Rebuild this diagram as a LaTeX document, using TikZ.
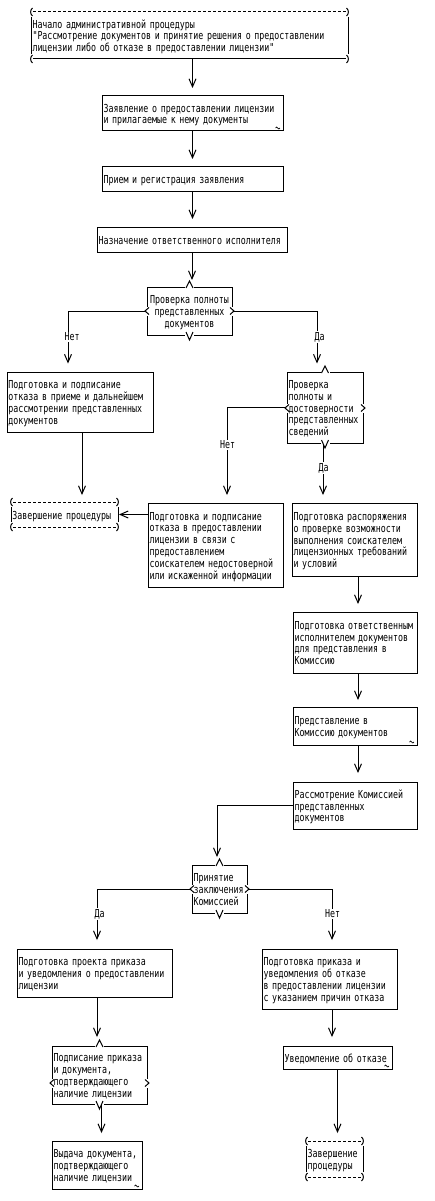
\documentclass[tikz,border=0pt]{standalone}
\usepackage{fontspec}
\newfontfamily\pxfont[FakeStretch=0.755]{DejaVu Sans Mono}
\usetikzlibrary{arrows.meta,calc}
\newcommand\decmarks[2]{%
  \fill[white] ($(#1.north)+(-4.5,-1)$) rectangle ($(#1.north)+(4.5,1)$);
  \draw ($(#1.north)+(-3.5,1)$) -- ($(#1.north)+(0,-6)$) -- ($(#1.north)+(3.5,1)$);
  \fill[white] ($(#1.south)+(-4.5,-1)$) rectangle ($(#1.south)+(4.5,1)$);
  \draw ($(#1.south)+(-3.5,-3)$) -- ($(#1.south)+(0,5)$) -- ($(#1.south)+(3.5,-3)$);
  \fill[white] ($(#1.west)+(-1,{#2-4.5})$) rectangle ($(#1.west)+(1,{#2+4.5})$);
  \draw ($(#1.west)+(2,{#2-3.5})$) -- ($(#1.west)+(-2,#2)$) -- ($(#1.west)+(2,{#2+3.5})$);
  \fill[white] ($(#1.east)+(-1,{#2-4.5})$) rectangle ($(#1.east)+(1,{#2+4.5})$);
  \draw ($(#1.east)+(-2,{#2-3.5})$) -- ($(#1.east)+(2,#2)$) -- ($(#1.east)+(-2,{#2+3.5})$);
}
\newcommand\termframe[3]{%
  \draw[#2] ($(#1.north west)+(2,0)$) -- ($(#1.north east)+(-2,0)$);
  \draw[#3] ($(#1.south west)+(2,0)$) -- ($(#1.south east)+(-2,0)$);
  \draw ($(#1.north west)+(0,5)$) -- ($(#1.south west)+(0,-5)$);
  \draw ($(#1.north east)+(0,5)$) -- ($(#1.south east)+(0,-5)$);
  \draw ($(#1.north west)+(1.5,-4)$) .. controls +(-2.5,2) and +(-2.5,-2) .. ($(#1.north west)+(1.5,4)$);
  \draw ($(#1.south west)+(1.5,-4)$) .. controls +(-2.5,2) and +(-2.5,-2) .. ($(#1.south west)+(1.5,4)$);
  \draw ($(#1.north east)+(-1.5,-4)$) .. controls +(2.5,2) and +(2.5,-2) .. ($(#1.north east)+(-1.5,4)$);
  \draw ($(#1.south east)+(-1.5,-4)$) .. controls +(2.5,2) and +(2.5,-2) .. ($(#1.south east)+(-1.5,4)$);
}
\newcommand\tildemark[1]{%
  \draw[line width=0.7pt] ($(#1.south east)+(-7.5,-3)$) sin ++(1.1,-1) cos ++(1.1,1) sin ++(1.1,1) cos ++(1.1,-1);
}
\begin{document}
\begin{tikzpicture}[x=1pt,y=-1pt,line width=1pt,
  every node/.style={font=\pxfont\fontsize{11}{11.8}\selectfont},
  tbox/.style={rectangle,outer sep=0pt,inner xsep=1.5pt,inner ysep=0pt,align=left,
    execute at begin node={\rule{0pt}{11.5pt}},
    execute at end node={\rule[-2.5pt]{0pt}{0pt}}},
  box/.style={tbox,draw},
  dsh/.style={dash pattern=on 3pt off 2pt},
  conn/.style={-{Straight Barb[length=8pt,width=7pt]},shorten >=8pt},
  lbl/.style={fill=white,inner sep=1pt}]
\useasboundingbox[fill=white] (0,0) rectangle (435,1201);

% nodes
\node[tbox,minimum width=317pt,text width=314pt,minimum height=47pt] (start) at (189.5,35.5)
 {Начало административной процедуры\\"Рассмотрение документов и принятие решения о предоставлении\\лицензии либо об отказе в предоставлении лицензии"};
\node[box,minimum width=181pt,text width=178pt,minimum height=35pt] (b2) at (192.5,113.5)
 {Заявление о предоставлении лицензии\\и прилагаемые к нему документы};
\node[box,minimum width=181pt,text width=178pt,minimum height=25pt] (b3) at (192.5,179.5)
 {Прием и регистрация заявления};
\node[box,minimum width=190pt,text width=187pt,minimum height=25pt] (b4) at (192,239.5)
 {Назначение ответственного исполнителя};
\node[box,align=center,minimum width=85pt,text width=82pt,minimum height=48pt] (d1) at (189.5,311)
 {Проверка полноты\\представленных\\документов};
\node[box,minimum width=146pt,text width=143pt,minimum height=60pt] (b5) at (80,402)
 {Подготовка и подписание\\отказа в приеме и дальнейшем\\рассмотрении представленных\\документов};
\node[box,minimum width=76pt,text width=73pt,minimum height=71pt] (d2) at (325,407.5)
 {Проверка\\полноты и\\достоверности\\представленных\\сведений};
\node[tbox,minimum width=107pt,text width=104pt,minimum height=25pt] (t1) at (64.5,514.5)
 {Завершение процедуры};
\node[box,minimum width=135pt,text width=132pt,minimum height=84pt] (b6) at (215.5,545)
 {Подготовка и подписание\\отказа в предоставлении\\лицензии в связи с\\предоставлением\\соискателем недостоверной\\или искаженной информации};
\node[box,minimum width=125pt,text width=122pt,minimum height=73pt] (b7) at (354.5,539.5)
 {Подготовка распоряжения\\о проверке возможности\\выполнения соискателем\\лицензионных требований\\и условий};
\node[box,minimum width=124pt,text width=121pt,minimum height=61pt] (b8) at (355,642.5)
 {Подготовка ответственным\\исполнителем документов\\для представления в\\Комиссию};
\node[box,minimum width=124pt,text width=121pt,minimum height=38pt] (b9) at (355,726)
 {Представление в\\Комиссию документов};
\node[box,minimum width=124pt,text width=121pt,minimum height=47pt] (b10) at (355,805.5)
 {Рассмотрение Комиссией\\представленных\\документов};
\node[box,minimum width=55pt,text width=52pt,minimum height=48pt] (d3) at (219.5,889)
 {Принятие\\заключения\\Комиссией};
\node[box,minimum width=155pt,text width=152pt,minimum height=48pt] (b11) at (94.5,973)
 {Подготовка проекта приказа\\и уведомления о предоставлении\\лицензии};
\node[box,minimum width=135pt,text width=132pt,minimum height=60pt] (b12) at (329.5,979)
 {Подготовка приказа и\\уведомления об отказе\\в предоставлении лицензии\\с указанием причин отказа};
\node[box,minimum width=95pt,text width=92pt,minimum height=58pt] (d4) at (99.5,1075)
 {Подписание приказа\\и документа,\\подтверждающего\\наличие лицензии};
\node[box,minimum width=90pt,text width=87pt,minimum height=48pt] (b13) at (97,1165)
 {Выдача документа,\\подтверждающего\\наличие лицензии};
\node[box,minimum width=109pt,text width=106pt,minimum height=23pt] (b14) at (337.5,1057.5)
 {Уведомление об отказе};
\node[tbox,minimum width=57pt,text width=54pt,minimum height=36pt] (t2) at (334.5,1159)
 {Завершение\\процедуры};

% frames of terminators
\termframe{start}{dsh}{solid}
\termframe{t1}{dsh}{dsh}
\termframe{t2}{dsh}{dsh}

% connectors
\draw[conn] (b2.north |- start.south) -- (b2.north);
\draw[conn] (b2.south) -- (b3.north);
\draw[conn] (b3.south) -- (b3.south |- b4.north);
\draw[conn,shorten >=7pt] (b4.south) -- (b4.south |- d1.north);
\draw[conn,shorten >=8.5pt] (d1.west) -| ([xshift=-12pt]b5.north);
\draw[conn,shorten >=8.5pt] (d1.east) -| ([xshift=-8pt]d2.north);
\draw[conn] ([yshift=0.5pt]d2.west) -| ([xshift=11.5pt]b6.north);
\draw[conn] ([xshift=-2pt]d2.south) -- ([xshift=-2pt]d2.south |- b7.north);
\draw[conn,shorten >=7pt] ([xshift=2pt]b5.south) -- ([xshift=2pt]b5.south |- t1.north);
\draw[conn,shorten >=1pt] (t1.east -| b6.west) -- (t1.east);
\draw[conn] ([xshift=3pt]b8.north |- b7.south) -- ([xshift=3pt]b8.north);
\draw[conn,shorten >=7pt] ([xshift=3pt]b8.south) -- ([xshift=3pt]b9.north);
\draw[conn,shorten >=9pt] ([xshift=3pt]b9.south) -- ([xshift=3pt]b10.north);
\draw[conn] (b10.west) -| ([xshift=-2.5pt]d3.north);
\draw[conn,shorten >=9pt] (d3.west) -| ([xshift=2.5pt]b11.north);
\draw[conn,shorten >=9pt] (d3.east) -| ([xshift=2.5pt]b12.north);
\draw[conn,shorten >=9pt] ([xshift=2.5pt]b11.south) -- ([xshift=2.5pt]b11.south |- d4.north);
\draw[conn] ([xshift=2pt]d4.south) -- ([xshift=2pt]d4.south |- b13.north);
\draw[conn,shorten >=9pt] ([xshift=2.5pt]b12.south) -- ([xshift=2.5pt]b12.south |- b14.north);
\draw[conn] (b14.south) -- (b14.south |- t2.north);

% decision marks
\decmarks{d1}{0}
\decmarks{d2}{0.5}
\decmarks{d3}{0}
\decmarks{d4}{8}

% small corner marks
\tildemark{b2}
\tildemark{b9}
\tildemark{b13}
\tildemark{b14}

% labels
\node[lbl] (l1) at (72,337) {Нет};
\node[lbl] (l2) at (319.5,337) {Да};
\node[lbl] (l3) at (227.5,445) {Нет};
\node[lbl] (l4) at (323.5,468) {Да};
\node[lbl] (l5) at (99.5,914) {Да};
\node[lbl] (l6) at (332.5,914) {Нет};
\end{tikzpicture}
\end{document}
